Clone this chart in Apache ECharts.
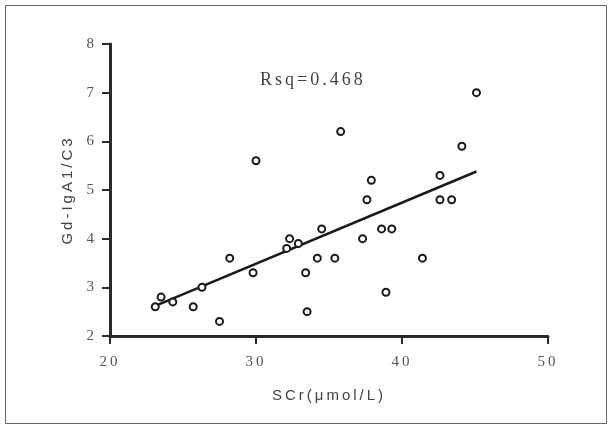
<!DOCTYPE html>
<html>
<head>
<meta charset="utf-8">
<script src="https://cdn.jsdelivr.net/npm/echarts@6/dist/echarts.min.js"></script>
<style>
html,body{margin:0;padding:0;background:#fff}
#c{width:613px;height:427px}
</style>
</head>
<body>
<div id="c"></div>
<script>
const scrValues = [23.1, 23.5, 24.3, 25.7, 26.3, 27.5, 28.2, 29.8, 30.0, 32.1, 32.3, 32.9, 33.4, 33.5, 34.2, 34.5, 35.4, 35.8, 37.3, 37.6, 37.9, 38.6, 38.9, 39.3, 41.4, 42.6, 42.6, 43.4, 44.1, 45.1];
const gdValues  = [2.6, 2.8, 2.7, 2.6, 3.0, 2.3, 3.6, 3.3, 5.6, 3.8, 4.0, 3.9, 3.3, 2.5, 3.6, 4.2, 3.6, 6.2, 4.0, 4.8, 5.2, 4.2, 2.9, 4.2, 3.6, 5.3, 4.8, 4.8, 5.9, 7.0];
const fitX = [23.1, 45.1];
const fitY = [2.62, 5.38];
const xTicks = [20, 30, 40, 50];
const yTicks = [2, 3, 4, 5, 6, 7, 8];
const xName = 'SCr(μmol/L)';
const yName = 'Gd-IgA1/C3';
const rsqText = 'Rsq=0.468';

// widen letter spacing of all drawn text, as in the original figure
(function () {
  const proto = CanvasRenderingContext2D.prototype;
  const origFill = proto.fillText;
  proto.fillText = function () {
    if ('letterSpacing' in this) this.letterSpacing = '3px';
    return origFill.apply(this, arguments);
  };
})();

const chart = echarts.init(document.getElementById('c'), null, {renderer: 'canvas'});
const axisCommon = {
  splitLine: {show: false},
  axisLine: {show: true, onZero: false, lineStyle: {color: '#2a2a2a', width: 3}},
  axisTick: {show: true, inside: false, length: 8, lineStyle: {color: '#2a2a2a', width: 2}},
};
chart.setOption({
  animation: false,
  backgroundColor: '#fff',
  grid: {left: 110, right: 65, top: 44, bottom: 91, containLabel: false},
  xAxis: Object.assign({}, axisCommon, {
    type: 'value', min: xTicks[0], max: xTicks[xTicks.length - 1], interval: 10,
    name: xName, nameLocation: 'middle', nameGap: 52,
    nameTextStyle: {fontFamily: 'Liberation Sans', fontSize: 15, color: '#444'},
    axisLabel: {margin: 19, fontFamily: 'Liberation Serif', fontSize: 15, color: '#555'}
  }),
  yAxis: Object.assign({}, axisCommon, {
    type: 'value', min: yTicks[0], max: yTicks[yTicks.length - 1], interval: 1,
    name: yName, nameLocation: 'middle', nameGap: 35, nameRotate: 90,
    nameTextStyle: {fontFamily: 'Liberation Sans', fontSize: 15, color: '#444'},
    axisLabel: {margin: 13, fontFamily: 'Liberation Serif', fontSize: 15, color: '#555'}
  }),
  graphic: [
    {type: 'rect', shape: {x: 5.5, y: 5.5, width: 601, height: 418}, style: {fill: 'none', stroke: '#666', lineWidth: 1}, z: 0, silent: true},
    {type: 'text', left: 260, top: 71, style: {text: rsqText, font: '18px "Liberation Serif"', fill: '#444'}}
  ],
  series: [
    {
      type: 'line', data: fitX.map((x, i) => [x, fitY[i]]), symbol: 'none',
      lineStyle: {color: '#1a1a1a', width: 2.5}, z: 2
    },
    {
      type: 'scatter', data: scrValues.map((x, i) => [x, gdValues[i]]),
      symbol: 'circle', symbolSize: 7,
      itemStyle: {color: '#fff', borderColor: '#1a1a1a', borderWidth: 2, opacity: 1}, z: 3
    }
  ]
});
</script>
</body>
</html>
